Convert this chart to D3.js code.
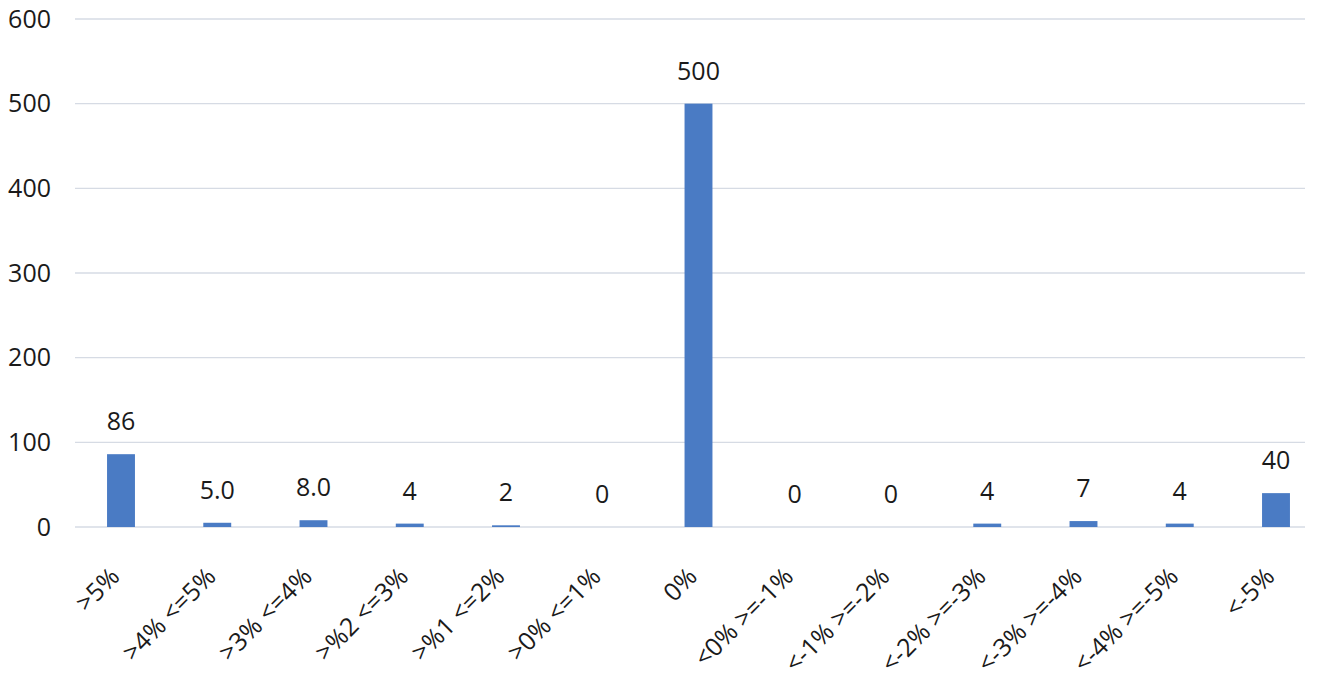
<!DOCTYPE html>
<html><head><meta charset="utf-8">
<script src="https://cdn.jsdelivr.net/npm/d3@7"></script>
<style>body{margin:0;background:#fff;} text{font-family:"Open Sans","Noto Sans",sans-serif;}</style>
</head><body>
<svg id="c" width="1342" height="684"></svg>
<script>
const categories = [">5%", ">4% <=5%", ">3% <=4%", ">%2 <=3%", ">%1 <=2%", ">0% <=1%", "0%", "<0% >=-1%", "<-1% >=-2%", "<-2% >=-3%", "<-3% >=-4%", "<-4% >=-5%", "<-5%"];
const values = [86, 5, 8, 4, 2, 0, 500, 0, 0, 4, 7, 4, 40];
const valueLabels = ["86", "5.0", "8.0", "4", "2", "0", "500", "0", "0", "4", "7", "4", "40"];
const yTicks = [0, 100, 200, 300, 400, 500, 600];

const svg = d3.select("#c");
const m = {left: 75, right: 1305, top: 19, bottom: 527};
const step = 96.25;
const x = d3.scaleBand().domain(categories)
  .range([121 - step / 2, 121 - step / 2 + step * categories.length])
  .paddingInner(0.71).paddingOuter(0.355);
const y = d3.scaleLinear().domain([0, 600]).range([m.bottom, m.top]);

// gridlines
svg.append("g").selectAll("line").data(yTicks).join("line")
  .attr("x1", m.left).attr("x2", m.right)
  .attr("y1", d => y(d)).attr("y2", d => y(d))
  .attr("stroke", "#d6dbe4").attr("stroke-width", 1.3);

// y axis labels
const yAxis = d3.axisLeft(y).tickValues(yTicks).tickSize(0).tickPadding(0);
const ya = svg.append("g").attr("transform", "translate(51,0)").call(yAxis);
ya.select(".domain").remove();
ya.selectAll("text").attr("font-size", 25).attr("fill", "#1a1a1a").attr("font-family", "'Open Sans',sans-serif");

// bars
svg.append("g").selectAll("rect").data(values).join("rect")
  .attr("x", (d, i) => x(categories[i]))
  .attr("width", x.bandwidth())
  .attr("y", d => y(d))
  .attr("height", d => y(0) - y(d))
  .attr("fill", "#4a7bc4");

// value labels
svg.append("g").selectAll("text").data(values).join("text")
  .attr("x", (d, i) => x(categories[i]) + x.bandwidth() / 2)
  .attr("y", d => y(d) - 24)
  .attr("text-anchor", "middle")
  .attr("font-size", 25).attr("fill", "#1a1a1a")
  .text((d, i) => valueLabels[i]);

// x axis labels
const xAxis = d3.axisBottom(x).tickSize(0).tickPadding(0);
const xa = svg.append("g").attr("transform", `translate(0,${m.bottom})`).call(xAxis);
xa.select(".domain").remove();
xa.selectAll("text")
  .attr("font-size", 25).attr("fill", "#1a1a1a").attr("font-family", "'Open Sans',sans-serif")
  .attr("text-anchor", "end")
  .attr("dy", "0.35em")
  .attr("transform", "translate(-6,45) rotate(-45)");
</script>
</body></html>
